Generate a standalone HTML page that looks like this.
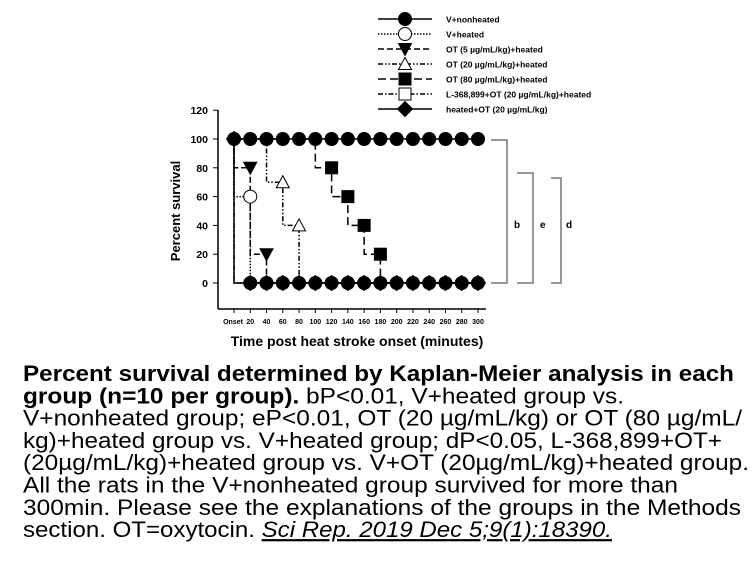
<!DOCTYPE html>
<html><head><meta charset="utf-8"><style>
html,body{margin:0;padding:0;background:#fff;}
svg{display:block;font-family:"Liberation Sans",Arial,sans-serif;}
</style></head><body>
<svg id="chart" width="756" height="567" viewBox="0 0 756 567" xmlns="http://www.w3.org/2000/svg">
<rect width="756" height="567" fill="#fff"/>
<g id="legend"></g>
<g id="axes"></g>
<g id="series"></g>
<g id="brackets"></g>
<g id="caption" font-size="22" fill="#000"></g>
</svg>
<script>
const xTicks=[0,20,40,60,80,100,120,140,160,180,200,220,240,260,280,300];
const xTickLabels=["Onset","20","40","60","80","100","120","140","160","180","200","220","240","260","280","300"];
const yTicks=[0,20,40,60,80,100,120];
const seriesNames=["V+nonheated","V+heated","OT (5 \u00b5g/mL/kg)+heated","OT (20 \u00b5g/mL/kg)+heated","OT (80 \u00b5g/mL/kg)+heated","L-368,899+OT (20 \u00b5g/mL/kg)+heated","heated+OT (20 \u00b5g/mL/kg)"];
// step curves: [time, survival] after each event
const vNonheated=[[0,100],[300,100]];
const vHeated=[[0,100],[0,60],[20,60],[20,0],[300,0]];
const ot5=[[0,100],[0,80],[20,80],[20,20],[40,20],[40,0],[300,0]];
const ot20=[[0,100],[40,100],[40,70],[60,70],[60,40],[80,40],[80,0],[300,0]];
const ot80=[[0,100],[100,100],[100,80],[120,80],[120,60],[140,60],[140,40],[160,40],[160,20],[180,20],[180,0],[300,0]];
const lOt=[[0,100],[0,0],[300,0]];
const heatedOt=[[0,100],[0,0],[300,0]];
// marker points
const mNonheated=[[0,100],[20,100],[40,100],[60,100],[80,100],[100,100],[120,100],[140,100],[160,100],[180,100],[200,100],[220,100],[240,100],[260,100],[280,100],[300,100]];
const mHeated=[[20,60]];
const mOt5=[[20,80],[40,20]];
const mOt20=[[60,70],[80,40]];
const mOt80=[[120,80],[140,60],[160,40],[180,20]];
const mZero=[[20,0],[40,0],[60,0],[80,0],[100,0],[120,0],[140,0],[160,0],[180,0],[200,0],[220,0],[240,0],[260,0],[280,0],[300,0]];
const mHeatedOt=[[0,100]];

const NS="http://www.w3.org/2000/svg";
const X0=234,X1=478,Y0=283,Y100=139;
const xs=t=>X0+(X1-X0)*t/300;
const ys=v=>Y0-(Y0-Y100)*v/100;
function el(tag,attrs,parent){const e=document.createElementNS(NS,tag);for(const k in attrs)e.setAttribute(k,attrs[k]);parent.appendChild(e);return e;}
const gA=document.getElementById('axes'),gS=document.getElementById('series'),gL=document.getElementById('legend'),gB=document.getElementById('brackets'),gC=document.getElementById('caption');

// axes
let ya=el('line',{x1:218,y1:110,x2:218,y2:309,stroke:'#000','stroke-width':1.5},gA);


let xa=el('line',{x1:218,y1:309,x2:486,y2:309,stroke:'#000','stroke-width':1.5},gA);


yTicks.forEach(v=>{
  el('line',{x1:213,y1:ys(v),x2:218,y2:ys(v),stroke:'#000'},gA);
  const t=el('text',{x:208,y:ys(v)+4,'text-anchor':'end','font-size':10.5,'font-weight':'bold'},gA);
  t.textContent=v;
  
  
});
xTicks.forEach((v,i)=>{
  el('line',{x1:xs(v),y1:309,x2:xs(v),y2:313,stroke:'#000'},gA);
  const t=el('text',{x:xs(v)+(i==0?-1:0),y:324,'text-anchor':'middle','font-size':7,'font-weight':'bold'},gA);
  t.textContent=xTickLabels[i];
  
  
});
let yt=el('text',{x:0,y:0,transform:'translate(180,211) rotate(-90)','text-anchor':'middle','font-size':13,'font-weight':'bold'},gA);
yt.textContent='Percent survival';


let xt=el('text',{x:357,y:346,'text-anchor':'middle','font-size':14,'font-weight':'bold'},gA);
xt.textContent='Time post heat stroke onset (minutes)';



const styles=[
 {d:'',m:'circle',f:'#000'},
 {d:'1.5,1.5',m:'circle',f:'#fff'},
 {d:'6,3',m:'tdown',f:'#000'},
 {d:'5,2,1.5,2,1.5,2',m:'tup',f:'#fff'},
 {d:'8,4',m:'square',f:'#000'},
 {d:'5,2,1.5,2',m:'square',f:'#fff'},
 {d:'',m:'diamond',f:'#000'}];
function marker(type,x,y,fill,parent,name){
  let e;const r=6.5;
  if(type=='circle')e=el('circle',{cx:x,cy:y,r:r,fill:fill,stroke:'#000','stroke-width':1},parent);
  else if(type=='square')e=el('rect',{x:x-6,y:y-6,width:12,height:12,fill:fill,stroke:'#000','stroke-width':1},parent);
  else if(type=='tdown')e=el('polygon',{points:`${x-6.5},${y-5.5} ${x+6.5},${y-5.5} ${x},${y+6.5}`,fill:fill,stroke:'#000'},parent);
  else if(type=='tup')e=el('polygon',{points:`${x-6.5},${y+5.5} ${x+6.5},${y+5.5} ${x},${y-6.5}`,fill:fill,stroke:'#000'},parent);
  else e=el('polygon',{points:`${x},${y-7.5} ${x+7.5},${y} ${x},${y+7.5} ${x-7.5},${y}`,fill:fill,stroke:'#000'},parent);
  
  
}
const curves=[vNonheated,vHeated,ot5,ot20,ot80,lOt,heatedOt];
const marks=[mNonheated,mHeated,mOt5,mOt20,mOt80,mZero,mHeatedOt];
const keys=['v-nonheated','v-heated','ot5','ot20','ot80','l368-ot20','heated-ot20'];
curves.forEach((c,i)=>{
  const p=el('polyline',{points:c.map(q=>xs(q[0])+','+ys(q[1])).join(' '),fill:'none',stroke:'#000','stroke-width':1.5,'stroke-dasharray':styles[i].d||'none'},gS);
  
  
});
mZero.forEach(q=>marker('circle',xs(q[0]),ys(q[1]),'#000',gS,'zero-point'));
mZero.forEach(q=>marker('diamond',xs(q[0]),ys(q[1]),'#000',gS,'zero-point'));
marks.forEach((m,i)=>{ if(i==5)return; m.forEach(q=>marker(styles[i].m,xs(q[0]),ys(q[1]),styles[i].f,gS,keys[i]+'-point'));});

// legend
seriesNames.forEach((n,i)=>{
  const y=19+i*15;
  const g=el('g',{},gL);
  
  
  el('line',{x1:378,y1:y,x2:432,y2:y,stroke:'#000','stroke-width':1.5,'stroke-dasharray':styles[i].d||'none'},g);
  marker(styles[i].m,405,y,styles[i].f,g,'legend-marker');
  const t=el('text',{x:446,y:y+3.5,'font-size':8.5,'font-weight':'bold'},g);
  t.textContent=n;
});

// brackets
[[491,507,140,283,'b',514],[517,533,173,283,'e',540],[551,561,178,283,'d',566]].forEach(b=>{
  const p=el('polyline',{points:`${b[0]},${b[2]} ${b[1]},${b[2]} ${b[1]},${b[3]} ${b[0]},${b[3]}`,fill:'none',stroke:'#777','stroke-width':1.5},gB);
  
  
  const t=el('text',{x:b[5],y:228,'font-size':10,'font-weight':'bold'},gB);
  t.textContent=b[4];
});

// caption
const capLines=[
 [[ 'Percent survival determined by Kaplan-Meier analysis in each',1]],
 [[ 'group (n=10 per group). ',1],['bP<0.01, V+heated group vs.',0]],
 [[ 'V+nonheated group; eP<0.01, OT (20 \u00b5g/mL/kg) or OT (80 \u00b5g/mL/',0]],
 [[ 'kg)+heated group vs. V+heated group; dP<0.05, L-368,899+OT+',0]],
 [[ '(20\u00b5g/mL/kg)+heated group vs. V+OT (20\u00b5g/mL/kg)+heated group.',0]],
 [[ 'All the rats in the V+nonheated group survived for more than',0]],
 [[ '300min. Please see the explanations of the groups in the Methods',0]],
 [[ 'section. OT=oxytocin. ',0],['Sci Rep. 2019 Dec 5;9(1):18390.',2]]];
const widths=[711,601,719,699,726,655,718,589];
capLines.forEach((ln,i)=>{
  const t=el('text',{x:23,y:381+i*22.3,textLength:widths[i],lengthAdjust:'spacingAndGlyphs'},gC);
  
  
  ln.forEach(s=>{const sp=el('tspan',{},t);sp.textContent=s[0];
    if(s[1]==1)sp.setAttribute('font-weight','bold');
    if(s[1]==2){sp.setAttribute('font-style','italic');sp.setAttribute('text-decoration','underline');}});
});
</script>
</body></html>
